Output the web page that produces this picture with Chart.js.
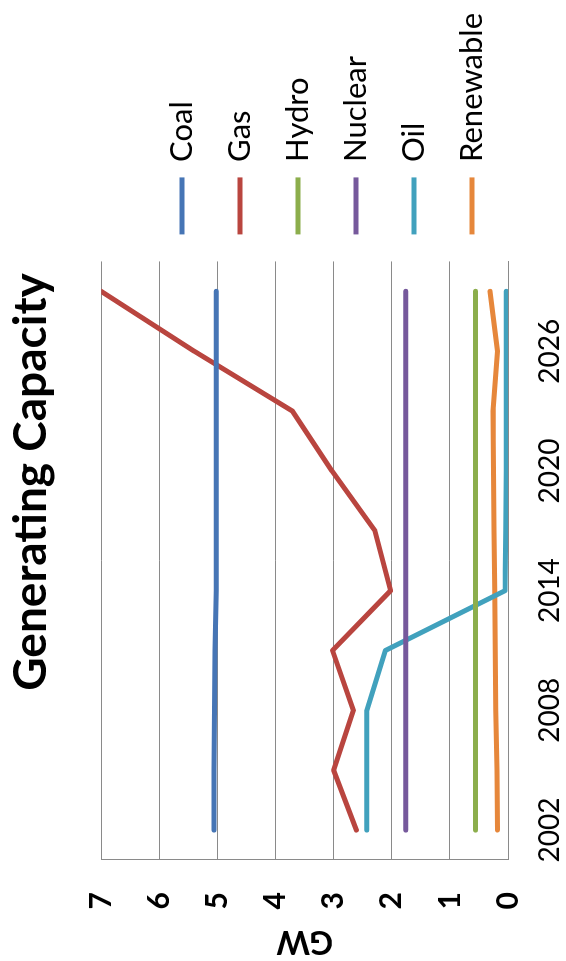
<!DOCTYPE html>
<html lang="en">
<head>
    <meta charset="UTF-8" />
    <title>Generating Capacity</title>
    <script src="https://cdn.jsdelivr.net/npm/chart.js"></script>
    <style>
        html, body {
            margin: 0;
            padding: 0;
            background: #fff;
            overflow: hidden;
        }

        /* chart is laid out landscape, then turned on its side */
        .chart-wrap {
            position: absolute;
            left: 0;
            top: 0;
            width: 961px;
            height: 566px;
            transform-origin: 0 0;
            transform: translateY(961px) rotate(-90deg);
        }
    </style>
</head>
<body>
    <div class="chart-wrap">
        <canvas id="capacityChart" width="961" height="566"></canvas>
    </div>

    <script>
        const years = ['2002', '2005', '2008', '2011', '2014', '2017', '2020', '2023', '2026', '2029'];
        const yTicks = [0, 1, 2, 3, 4, 5, 6, 7];

        // GW per source
        const coal      = [5.06, 5.06, 5.05, 5.04, 5.02, 5.02, 5.02, 5.02, 5.02, 5.02];
        const gas       = [2.61, 3.00, 2.66, 3.02, 2.02, 2.29, 3.03, 3.71, 5.40, 7.00];
        const hydro     = [0.56, 0.56, 0.56, 0.56, 0.56, 0.56, 0.56, 0.56, 0.56, 0.56];
        const nuclear   = [1.76, 1.76, 1.76, 1.76, 1.76, 1.76, 1.76, 1.76, 1.76, 1.76];
        const oil       = [2.43, 2.43, 2.43, 2.11, 0.05, 0.04, 0.03, 0.03, 0.03, 0.03];
        const renewable = [0.18, 0.19, 0.21, 0.22, 0.23, 0.24, 0.25, 0.26, 0.18, 0.31];

        const sourceNames  = ['Coal', 'Gas', 'Hydro', 'Nuclear', 'Oil', 'Renewable'];
        const sourceValues = [coal, gas, hydro, nuclear, oil, renewable];
        const sourceColors = ['#4675b5', '#b9453f', '#8cae4c', '#76599c', '#41a1bd', '#e6873b'];

        const gridColor = '#8a8a8a';

        function drawChart() {
            const ctx = document.getElementById('capacityChart').getContext('2d');

            new Chart(ctx, {
                type: 'line',
                data: {
                    labels: years,
                    datasets: sourceNames.map((name, i) => ({
                        label: name,
                        data: sourceValues[i],
                        borderColor: sourceColors[i],
                        backgroundColor: sourceColors[i],
                        borderWidth: 5,
                        borderCapStyle: 'round',
                        borderJoinStyle: 'round',
                        pointRadius: 0,
                        tension: 0,
                        fill: false
                    }))
                },
                options: {
                    responsive: false,
                    animation: false,
                    layout: { padding: { right: 3 } },
                    plugins: {
                        title: {
                            display: true,
                            text: 'Generating Capacity',
                            color: '#000',
                            font: { family: 'Lato', size: 46, weight: 'bold' },
                            padding: { top: 4, bottom: 42 }
                        },
                        legend: {
                            position: 'right',
                            maxWidth: 300,
                            title: { display: true, text: '', padding: { top: 73.6, bottom: 0 } },
                            labels: {
                                usePointStyle: true,
                                pointStyle: 'line',
                                pointStyleWidth: 57,
                                padding: 27,
                                color: '#000',
                                font: { family: 'Lato', size: 31 }
                            }
                        },
                        tooltip: { enabled: false }
                    },
                    scales: {
                        x: {
                            offset: true,
                            grid: { display: false },
                            border: { display: true, color: gridColor, width: 1 },
                            ticks: {
                                autoSkip: false,
                                maxRotation: 0,
                                padding: 17,
                                color: '#000',
                                font: { family: 'Lato', size: 28 },
                                // label every second year on the axis
                                callback: function (value, index) {
                                    return index % 2 === 0 ? this.getLabelForValue(value) : '';
                                }
                            },
                            afterFit: scale => { scale.height = 58; }
                        },
                        y: {
                            min: yTicks[0],
                            max: yTicks[yTicks.length - 1],
                            grid: { color: gridColor, lineWidth: 1, drawTicks: false },
                            border: { display: true, color: gridColor, width: 1 },
                            ticks: {
                                stepSize: 1,
                                padding: 32,
                                color: '#000',
                                font: { family: 'Lato', size: 30, weight: 'bold' }
                            },
                            title: {
                                display: true,
                                text: 'GW',
                                color: '#000',
                                font: { family: 'Lato', size: 32, weight: 'bold' },
                                padding: { top: 0, bottom: 0 }
                            },
                            afterFit: scale => { scale.width = 101; }
                        }
                    }
                }
            });
        }

        // make sure Lato is ready before the legend measures its labels
        Promise.all([
            document.fonts.load('bold 46px Lato'),
            document.fonts.load('31px Lato'),
            document.fonts.load('28px Lato')
        ]).then(drawChart, drawChart);
    </script>
</body>
</html>
